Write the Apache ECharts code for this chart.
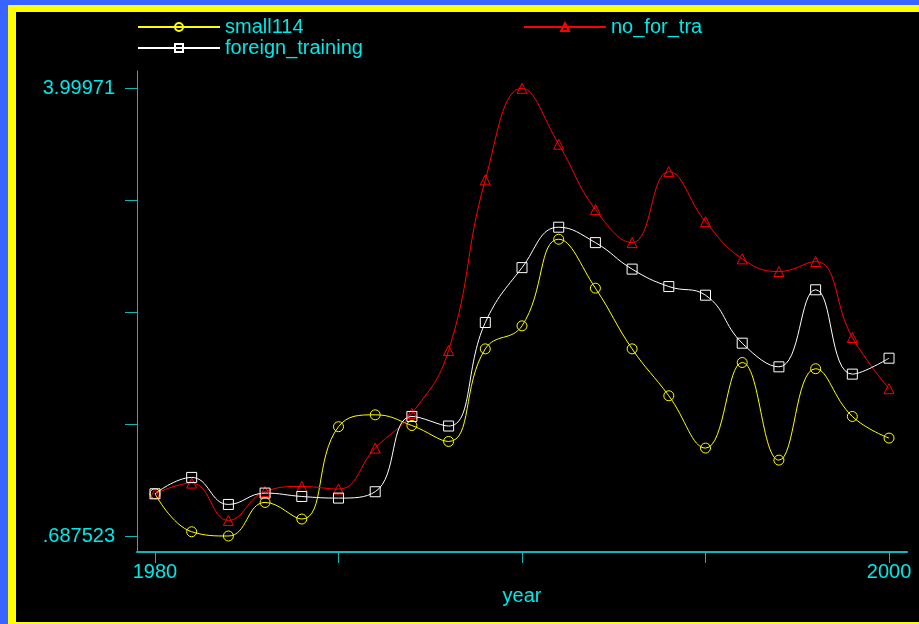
<!DOCTYPE html>
<html>
<head>
<meta charset="utf-8">
<script src="https://cdn.jsdelivr.net/npm/echarts@6/dist/echarts.min.js"></script>
<style>
  html, body { margin: 0; padding: 0; background: #000; }
  #chart { width: 919px; height: 624px; }
</style>
</head>
<body>
<div id="chart"></div>
<script>
// Years on the horizontal axis
const years = [1980, 1981, 1982, 1983, 1984, 1985, 1986, 1987, 1988, 1989, 1990,
               1991, 1992, 1993, 1994, 1995, 1996, 1997, 1998, 1999, 2000];

// Series values, one per year
const small114 = [1.0, 0.719, 0.687523, 0.936, 0.813, 1.496, 1.584, 1.505, 1.387, 2.072, 2.242,
                  2.883, 2.521, 2.072, 1.725, 1.338, 1.971, 1.249, 1.925, 1.572, 1.412];
const noForTra = [1.0, 1.079, 0.803, 1.017, 1.054, 1.035, 1.338, 1.595, 2.060, 3.322, 3.99971,
                  3.586, 3.102, 2.858, 3.383, 3.013, 2.738, 2.644, 2.718, 2.156, 1.777];
const foreignTraining = [1.0, 1.121, 0.921, 1.005, 0.980, 0.968, 1.015, 1.572, 1.501, 2.267, 2.673,
                         2.972, 2.858, 2.662, 2.533, 2.469, 2.114, 1.939, 2.509, 1.885, 2.003];

// Axis ticks and labels
const xTickValues = [1980, 1985, 1990, 1995, 2000];
const xLabelValues = [1980, 2000];
const yTickValues = [0.687523, 1.515570, 2.343617, 3.171664, 3.99971];
const yLabelValues = [0.687523, 3.99971];
const yLabelTexts = ['.687523', '3.99971'];

const CYAN_TEXT = '#00e8e8';
const CYAN_LINE = '#12b8b8';
const FONT = 'Liberation Sans, Arial, sans-serif';

function pairs(vals) {
  return years.map((y, i) => [y, vals[i]]);
}

function lineSeries(name, vals, color, symbol) {
  return {
    name: name,
    type: 'line',
    data: pairs(vals),
    smooth: 0.45,
    symbol: symbol,
    symbolSize: 10,
    showSymbol: true,
    lineStyle: { color: color, width: 1 },
    itemStyle: { color: 'rgba(0,0,0,0)', borderColor: color, borderWidth: 1 },
    emphasis: { disabled: true },
    z: 2
  };
}

function legendAt(name, left, top) {
  return {
    data: [name],
    left: left,
    top: top,
    orient: 'horizontal',
    itemWidth: 82,
    itemHeight: 10,
    padding: 0,
    selectedMode: false,
    textStyle: { color: CYAN_TEXT, fontSize: 20, fontFamily: FONT }
  };
}

const chart = echarts.init(document.getElementById('chart'), null, { renderer: 'canvas' });

chart.setOption({
  animation: false,
  backgroundColor: '#000',
  graphic: [
    { type: 'rect', shape: { x: 0, y: 0, width: 919, height: 624 }, style: { fill: '#3a64ff' }, z: -10, silent: true },
    { type: 'rect', shape: { x: 8, y: 5, width: 930, height: 640 }, style: { fill: '#ffff00' }, z: -9, silent: true },
    { type: 'rect', shape: { x: 16, y: 12, width: 920, height: 610 }, style: { fill: '#000' }, z: -8, silent: true }
  ],
  legend: [
    legendAt('small114', 137, 17),
    legendAt('no_for_tra', 523, 17),
    legendAt('foreign_training', 137, 38)
  ],
  grid: {
    left: 137, right: 12, top: 71, bottom: 72,
    containLabel: false,
    outerBoundsMode: 'none'
  },
  xAxis: {
    type: 'value',
    min: 1979.51,
    max: 2000.49,
    name: 'year',
    nameLocation: 'middle',
    nameGap: 32,
    nameTextStyle: { color: CYAN_TEXT, fontSize: 20, fontFamily: FONT },
    axisLine: { show: true, onZero: false, lineStyle: { color: CYAN_LINE, width: 2 } },
    axisTick: { show: true, inside: false, length: 11, customValues: xTickValues,
                lineStyle: { color: CYAN_LINE, width: 1 } },
    axisLabel: { show: true, customValues: xLabelValues, margin: 10,
                 color: CYAN_TEXT, fontSize: 20, fontFamily: FONT,
                 formatter: v => String(v) },
    splitLine: { show: false }
  },
  yAxis: {
    type: 'value',
    min: 0.5692,
    max: 4.1276,
    axisLine: { show: true, onZero: false, lineStyle: { color: CYAN_LINE, width: 1 } },
    axisTick: { show: true, inside: false, length: 12, customValues: yTickValues,
                lineStyle: { color: CYAN_LINE, width: 1 } },
    axisLabel: { show: true, customValues: yLabelValues, margin: 22,
                 color: CYAN_TEXT, fontSize: 20, fontFamily: FONT,
                 formatter: v => {
                   let best = 0;
                   yLabelValues.forEach((lv, i) => {
                     if (Math.abs(lv - v) < Math.abs(yLabelValues[best] - v)) best = i;
                   });
                   return yLabelTexts[best];
                 } },
    splitLine: { show: false }
  },
  series: [
    lineSeries('small114', small114, '#ffff00', 'circle'),
    lineSeries('no_for_tra', noForTra, '#ff0000', 'triangle'),
    lineSeries('foreign_training', foreignTraining, '#ffffff', 'rect')
  ]
});
</script>
</body>
</html>
